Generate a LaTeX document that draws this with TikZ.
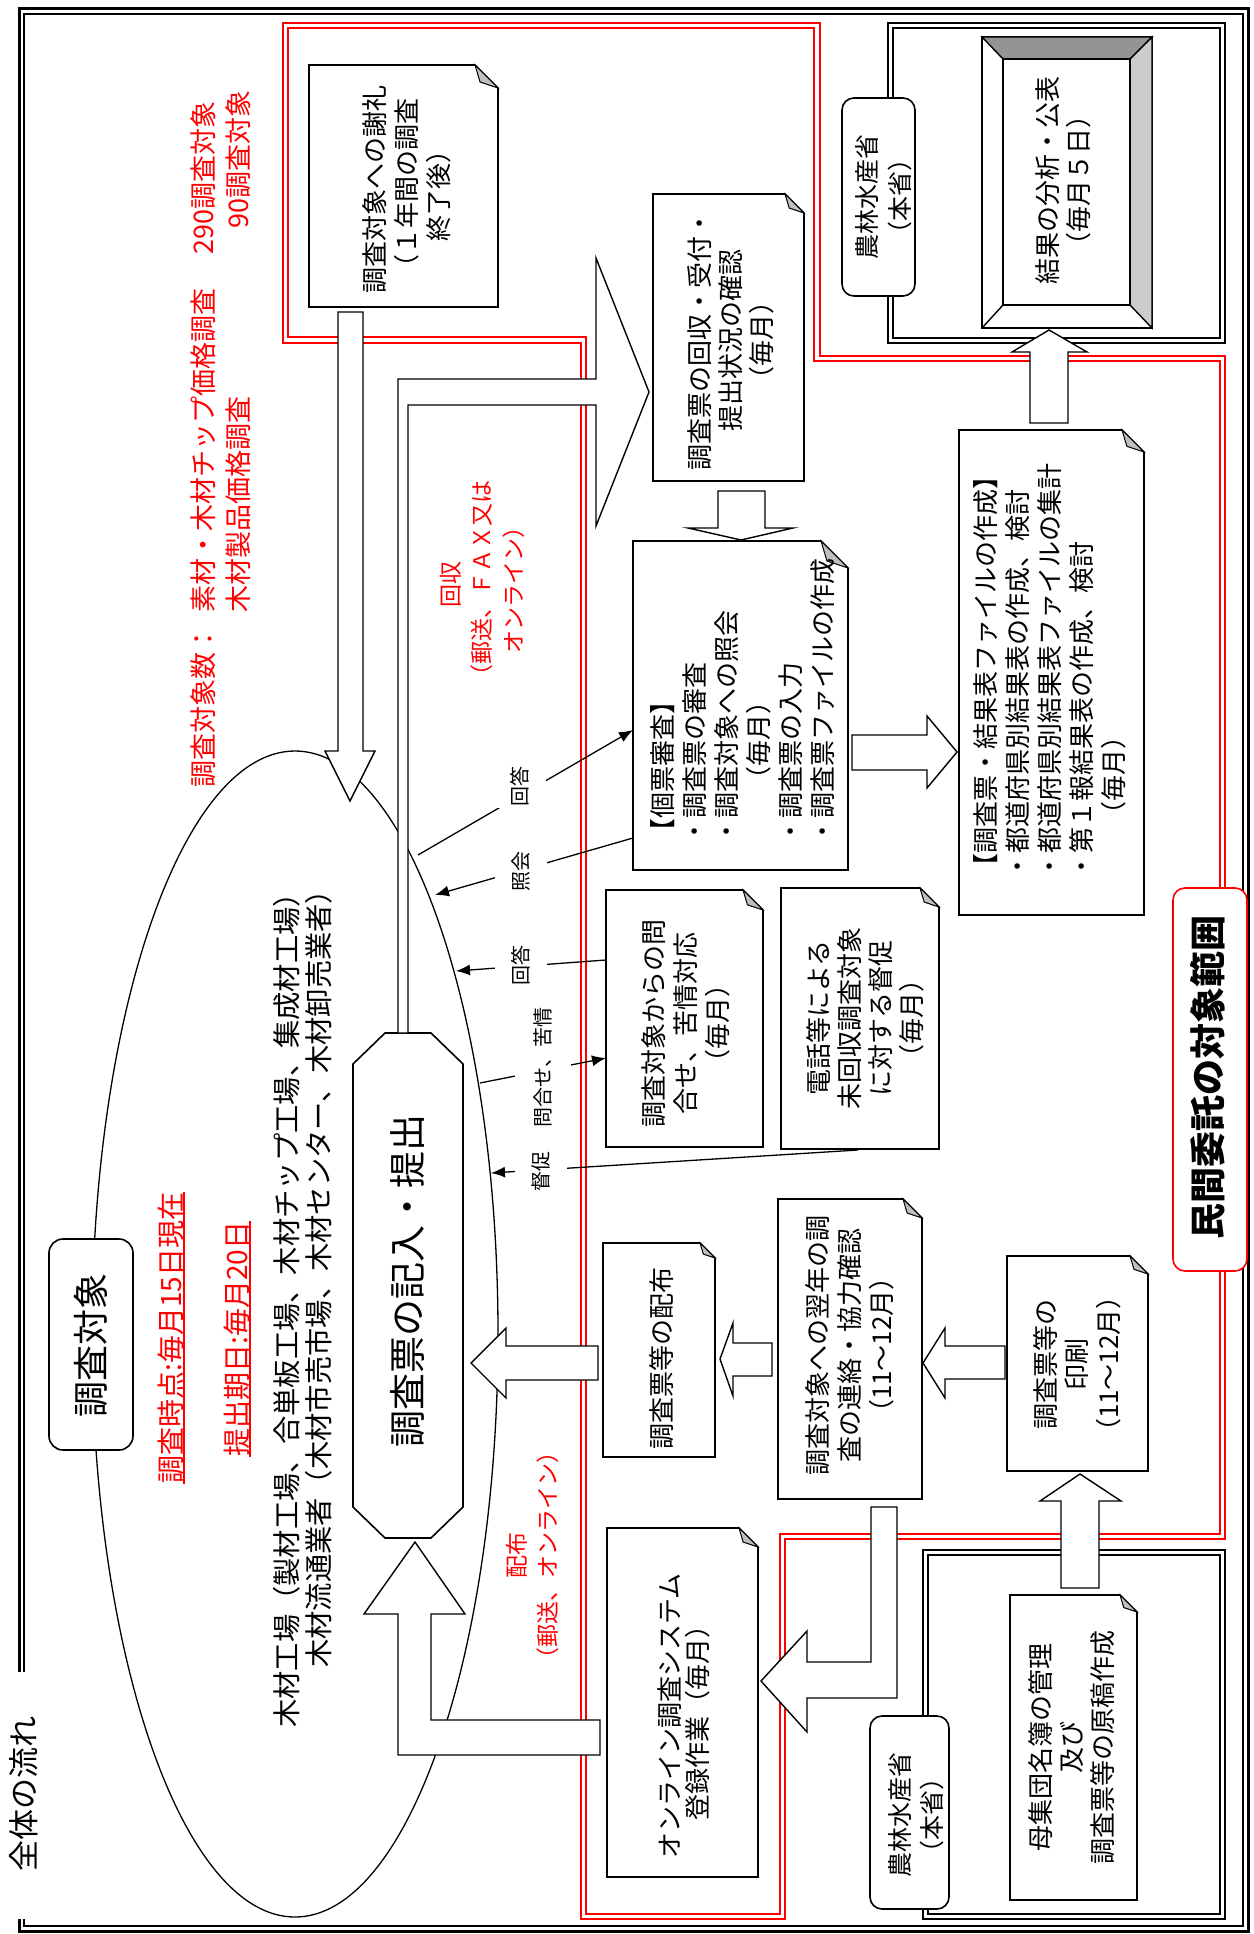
\documentclass[tikz,border=0pt]{standalone}
\usepackage{fontspec}
\setmainfont{Noto Sans CJK JP}
\usetikzlibrary{arrows.meta}
\definecolor{rd}{RGB}{255,0,0}
\newcommand{\jfs}[2]{\fontsize{#1}{#2}\selectfont}
\tikzset{
  boxline/.style={draw=black, fill=white, line width=1.6pt},
  foldline/.style={draw=black, fill=black!25, line width=1pt},
  barrow/.style={draw=black, fill=white, line width=1.4pt, line join=miter},
  tarrow/.style={line width=1.3pt, -{Latex[length=14pt,width=11pt]}},
  rt/.style={rotate=90, inner sep=0pt, align=center},
  lbl/.style={rotate=90, fill=white, inner xsep=2pt, inner ysep=17pt, font=\jfs{20}{24}},
}
\newcommand{\dogear}[5]{%
  \draw[boxline] (#1,#2) -- ({#3-#5},#2) -- (#3,{#2+#5}) -- (#3,#4) -- (#1,#4) -- cycle;
  \draw[foldline] ({#3-#5},#2) -- (#3,{#2+#5}) -- ({#3-0.78*#5},{#2+0.74*#5}) -- cycle;}
\begin{document}
\begin{tikzpicture}[x=1pt,y=-1pt]
\fill[white] (0,0) rectangle (1253,1934);
\useasboundingbox (0,0) rectangle (1253,1934);

% outer frame
\draw[line width=3pt] (19,1672) -- (19,9) -- (1248,9) -- (1248,1931) -- (19,1931) -- (19,1919);
\draw[line width=1.5pt] (24,1672) -- (24,14) -- (1243,14) -- (1243,1926) -- (24,1926) -- (24,1919);

% red frame
\draw[rd, line width=2.2pt] (283,23) -- (820,23) -- (820,356) -- (1225,356) -- (1225,1539) -- (785,1539) -- (785,1919) -- (581,1919) -- (581,343) -- (283,343) -- cycle;
\draw[rd, line width=1.6pt] (288,28) -- (814,28) -- (814,361) -- (1220,361) -- (1220,1534) -- (780,1534) -- (780,1914) -- (586,1914) -- (586,337) -- (288,337) -- cycle;

% black double frames (MAFF)
\draw[line width=2.6pt] (888,23) rectangle (1225,343);
\draw[line width=1.5pt] (893,28) rectangle (1220,338);
\draw[line width=2.6pt] (923,1550) rectangle (1225,1919);
\draw[line width=1.5pt] (928,1555) rectangle (1220,1914);

% ellipse of survey targets
\draw[line width=1.3pt] (295,1334) ellipse [x radius=203pt, y radius=583pt];

% thin arrows
\coordinate (e1) at (418,855);  \coordinate (k1) at (633,730);
\coordinate (k2) at (633,838);  \coordinate (e2) at (435,895);
\coordinate (q3) at (606,960);  \coordinate (e3) at (456,971);
\coordinate (e4) at (480,1083); \coordinate (q4) at (606,1058);
\coordinate (t5) at (858,1150); \coordinate (e5) at (491,1173);
\draw[tarrow] (e1) -- (k1);
\draw[tarrow] (k2) -- (e2);
\draw[tarrow] (q3) -- (e3);
\draw[tarrow] (e4) -- (q4);
\draw[tarrow] (t5) -- (e5);
\node[lbl] (l1) at (520,786) {回答};
\node[lbl] (l2) at (521,871) {照会};
\node[lbl] (l3) at (521,965) {回答};
\node[lbl, inner ysep=19pt] (l4) at (543,1067) {問合せ、苦情};
\node[lbl] (l5) at (541,1171) {督促};

% note boxes
\dogear{309}{65}{498}{307}{23}
\dogear{653}{194}{804}{481}{19}
\dogear{633}{541}{848}{870}{27}
\dogear{959}{430}{1144}{915}{22}
\dogear{606}{890}{763}{1147}{20}
\dogear{781}{888}{939}{1149}{19}
\dogear{603}{1243}{715}{1457}{15}
\dogear{778}{1199}{922}{1499}{19}
\dogear{1007}{1256}{1148}{1471}{18}
\dogear{1010}{1595}{1137}{1900}{17}
\dogear{607}{1528}{758}{1877}{19}

% bevel box (results)
\draw[line width=1.4pt, fill=white] (982,37) rectangle (1152,328);
\draw[line width=1.4pt, fill=black!42] (982,37) -- (1152,37) -- (1130,59) -- (1003,59) -- cycle;
\draw[line width=1.4pt, fill=black!20] (1152,37) -- (1152,328) -- (1130,305) -- (1130,59) -- cycle;
\draw[line width=1.4pt] (982,328) -- (1003,305);
\draw[line width=1.4pt] (1003,59) rectangle (1130,305);

% octagon
\draw[boxline] (353,1064) -- (385,1033) -- (431,1033) -- (463,1064) -- (463,1507) -- (431,1538) -- (385,1538) -- (353,1507) -- cycle;

% rounded boxes
\draw[boxline, rounded corners=14pt] (49,1239) rectangle (133,1450);
\draw[boxline, rounded corners=12pt] (842,98) rectangle (915,296);
\draw[boxline, rounded corners=12pt] (870,1716) rectangle (949,1909);
\draw[boxline, draw=rd, rounded corners=12pt] (1173,888) rectangle (1247,1271);

% block arrows
\draw[barrow] (338,312) -- (363,312) -- (363,751) -- (375,751) -- (350,801) -- (325,751) -- (338,751) -- cycle;
\draw[barrow] (398,1033) -- (398,379) -- (596,379) -- (596,258) -- (649,392) -- (596,526) -- (596,405) -- (408,405) -- (408,1033) -- cycle;
\draw[barrow] (718,491) -- (765,491) -- (765,528) -- (793,528) -- (741,540) -- (688,528) -- (718,528) -- cycle;
\draw[barrow] (852,735) -- (927,735) -- (927,716) -- (957,752) -- (927,788) -- (927,770) -- (852,770) -- cycle;
\draw[barrow] (1030,423) -- (1030,352) -- (1012,352) -- (1049,330) -- (1087,352) -- (1068,352) -- (1068,423) -- cycle;
\draw[barrow] (598,1346) -- (506,1346) -- (506,1328) -- (471,1363) -- (506,1398) -- (506,1380) -- (598,1380) -- cycle;
\draw[barrow] (772,1343) -- (733,1343) -- (733,1323) -- (720,1359) -- (733,1396) -- (733,1376) -- (772,1376) -- cycle;
\draw[barrow] (1005,1346) -- (945,1346) -- (945,1328) -- (923,1363) -- (945,1398) -- (945,1379) -- (1005,1379) -- cycle;
\draw[barrow] (1061,1588) -- (1061,1501) -- (1040,1501) -- (1080,1474) -- (1121,1501) -- (1099,1501) -- (1099,1588) -- cycle;
\draw[barrow] (871,1507) -- (897,1507) -- (897,1698) -- (807,1698) -- (807,1732) -- (761,1681) -- (807,1631) -- (807,1662) -- (871,1662) -- cycle;
\draw[barrow] (600,1720) -- (600,1755) -- (398,1755) -- (398,1614) -- (364,1614) -- (415,1542) -- (465,1614) -- (431,1614) -- (431,1720) -- cycle;

% ---- texts ----
\node[rt, fill=white, inner sep=3pt, font=\jfs{31}{34}] (title) at (24,1794) {全体の流れ};

\node[rt, anchor=west, text=rd, font=\jfs{27}{30}] (h1) at (203,788) {調査対象数：};
\node[rt, anchor=west, text=rd, font=\jfs{27}{30}] (h2) at (203,613) {素材・木材チップ価格調査};
\node[rt, anchor=west, text=rd, font=\jfs{27}{30}] (h3) at (203,255) {290調査対象};
\node[rt, anchor=west, text=rd, font=\jfs{27}{30}] (h4) at (238,613) {木材製品価格調査};
\node[rt, anchor=west, text=rd, font=\jfs{27}{30}] (h5) at (238,229) {90調査対象};

\node[rt, font=\jfs{36}{40}] (tgt) at (91,1345) {調査対象};
\node[rt, text=rd, font=\jfs{28}{30}] (d1) at (171,1338) {調査時点:毎月15日現在};
\draw[rd, line width=2pt] (d1.south west) -- (d1.south east);
\node[rt, text=rd, font=\jfs{28}{30}] (d2) at (237,1339) {提出期日:毎月20日};
\draw[rd, line width=2pt] (d2.south west) -- (d2.south east);

\node[rt, anchor=west, font=\jfs{28.3}{32}] (m1) at (287,1728) {木材工場（製材工場、合単板工場、木材チップ工場、集成材工場）};
\node[rt, anchor=west, font=\jfs{28.3}{32}] (m2) at (319,1668) {木材流通業者（木材市売市場、木材センター、木材卸売業者）};

\node[rt, font=\jfs{37}{40}] (fill) at (408,1281) {調査票の記入・提出};

\node[rt, text=rd, font=\jfs{23}{31.5}] (col) at (482,584) {回収\\（郵送、ＦＡＸ又は\\オンライン）};
\node[rt, text=rd, font=\jfs{23}{31}] (dist) at (532,1555) {配布\\（郵送、オンライン）};

\node[rt, font=\jfs{26}{32}] (thx) at (407,190) {調査対象への謝礼\\（１年間の調査\\終了後）};
\node[rt, font=\jfs{26}{31}] (rcv) at (731,340) {調査票の回収・受付・\\提出状況の確認\\（毎月）};
\node[rt, anchor=west, align=left, font=\jfs{26}{32}] (chk) at (743,845) {【個票審査】\\・調査票の審査\\・調査対象への照会\\　　（毎月）\\・調査票の入力\\・調査票ファイルの作成};
\node[rt, anchor=west, align=left, font=\jfs{26}{32}] (res) at (1050,880) {【調査票・結果表ファイルの作成】\\・都道府県別結果表の作成、検討\\・都道府県別結果表ファイルの集計\\・第１報結果表の作成、検討\\　　（毎月）};
\node[rt, font=\jfs{26}{31}] (pub) at (1063,181) {結果の分析・公表\\（毎月５日）};
\node[rt, font=\jfs{25}{33}] (maff1) at (884,197) {農林水産省\\（本省）};
\node[rt, font=\jfs{26}{32}] (inq) at (686,1023) {調査対象からの問\\合せ、苦情対応\\（毎月）};
\node[rt, font=\jfs{26}{31}] (tel) at (865,1018) {電話等による\\未回収調査対象\\に対する督促\\（毎月）};
\node[rt, font=\jfs{26}{32}] (hb) at (662,1358) {調査票等の配布};
\node[rt, font=\jfs{26}{32}] (nxt) at (850,1345) {調査対象への翌年の調\\査の連絡・協力確認\\（11～12月）};
\node[rt, font=\jfs{26}{31.5}] (prt) at (1077,1364) {調査票等の\\印刷\\（11～12月）};
\node[rt, font=\jfs{26}{31}] (mst) at (1072,1747) {母集団名簿の管理\\及び\\調査票等の原稿作成};
\node[rt, font=\jfs{26}{28}] (onl) at (684,1716) {オンライン調査システム\\登録作業（毎月）};
\node[rt, font=\jfs{25}{32}] (maff2) at (916,1815) {農林水産省\\（本省）};
\node[rt, font=\bfseries\jfs{36}{40}] (scope) at (1208,1077) {民間委託の対象範囲};
\end{tikzpicture}
\end{document}
